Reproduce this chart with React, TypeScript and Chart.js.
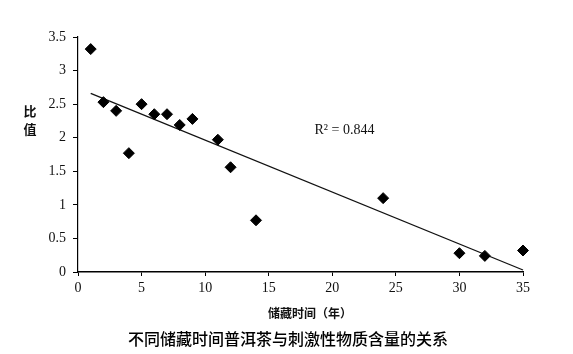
import React, { useEffect, useRef } from "react";
import { Chart, registerables } from "chart.js";

Chart.register(...registerables);

const storageYears = [1, 2, 3, 4, 5, 6, 7, 8, 9, 11, 12, 14, 24, 30, 32, 35];
const ratioValues = [3.32, 2.53, 2.4, 1.77, 2.5, 2.35, 2.35, 2.19, 2.28, 1.97, 1.56, 0.77, 1.1, 0.28, 0.24, 0.32];
const trendX = [1, 35];
const trendY = [2.66, 0.03];
const xTicks = [0, 5, 10, 15, 20, 25, 30, 35];
const yTicks = [0, 0.5, 1, 1.5, 2, 2.5, 3, 3.5];
const rSquaredLabel = "R² = 0.844";
const yTitleChars = ["比", "值"];
const xTitle = "储藏时间（年）";
const caption = "不同储藏时间普洱茶与刺激性物质含量的关系";

const CJK = '"Noto Sans CJK SC", "Noto Sans", sans-serif';
const SERIF = '"Liberation Serif", "DejaVu Serif", serif';

export default function App() {
  const ref = useRef<HTMLCanvasElement | null>(null);
  useEffect(() => {
    const canvas = ref.current;
    if (!canvas) return;
    const textPlugin = {
      id: "texts",
      afterDraw(chart: any) {
        const ctx = chart.ctx;
        const xs = chart.scales.x;
        const ys = chart.scales.y;
        ctx.save();
        ctx.fillStyle = "#111";
        ctx.textAlign = "left";
        ctx.textBaseline = "middle";
        ctx.font = `14px ${SERIF}`;
        ctx.fillText(rSquaredLabel, xs.getPixelForValue(18.6), ys.getPixelForValue(2.11));
        ctx.textAlign = "center";
        ctx.font = `bold 13px ${CJK}`;
        yTitleChars.forEach((c, i) => ctx.fillText(c, 30, 111 + i * 18));
        ctx.font = `bold 12px ${CJK}`;
        ctx.fillText(xTitle, 310, 313);
        ctx.font = `500 16px ${CJK}`;
        ctx.fillStyle = "#000";
        ctx.fillText(caption, 288, 339);
        ctx.restore();
      },
    };
    const chart = new Chart(canvas, {
      type: "scatter",
      data: {
        datasets: [
          {
            label: "ratio",
            data: storageYears.map((x, i) => ({ x, y: ratioValues[i] })),
            pointStyle: "rectRot",
            pointRadius: 5.5,
            pointBackgroundColor: "#000",
            pointBorderColor: "#000",
            pointBorderWidth: 1,
            showLine: false,
            clip: false,
            order: 1,
          },
          {
            label: "trend",
            data: trendX.map((x, i) => ({ x, y: trendY[i] })),
            showLine: true,
            borderColor: "#111",
            borderWidth: 1.3,
            pointRadius: 0,
            fill: false,
            clip: false,
            order: 2,
          },
        ],
      },
      options: {
        responsive: false,
        animation: false,
        layout: { padding: { left: 0, right: 50, top: 37, bottom: 0 } },
        plugins: {
          legend: { display: false },
          tooltip: { enabled: false },
        },
        scales: {
          x: {
            type: "linear",
            min: 0,
            max: 35,
            afterFit: (s: any) => { s.height = 82; },
            afterBuildTicks: (s: any) => { s.ticks = xTicks.map((v) => ({ value: v })); },
            grid: { display: true, drawOnChartArea: false, drawTicks: true, tickLength: 4, color: "#000" },
            border: { display: true, color: "#000", width: 1.5 },
            ticks: {
              color: "#111",
              font: { family: SERIF, size: 14 },
              padding: 4,
              maxRotation: 0,
              callback: (v: any) => String(v),
            },
          },
          y: {
            type: "linear",
            min: 0,
            max: 3.5,
            afterFit: (s: any) => { s.width = 78; },
            afterBuildTicks: (s: any) => { s.ticks = yTicks.map((v) => ({ value: v })); },
            grid: { display: true, drawOnChartArea: false, drawTicks: true, tickLength: 5, color: "#000" },
            border: { display: true, color: "#000", width: 1.2 },
            ticks: {
              color: "#111",
              font: { family: SERIF, size: 14 },
              padding: 7,
              callback: (v: any) => String(v),
            },
          },
        },
      },
      plugins: [textPlugin],
    } as any);
    return () => chart.destroy();
  }, []);
  return (
    <div style={{ position: "absolute", left: 0, top: 0, width: 573, height: 354, background: "#fff" }}>
      <canvas ref={ref} width={573} height={354} style={{ display: "block" }} />
    </div>
  );
}
